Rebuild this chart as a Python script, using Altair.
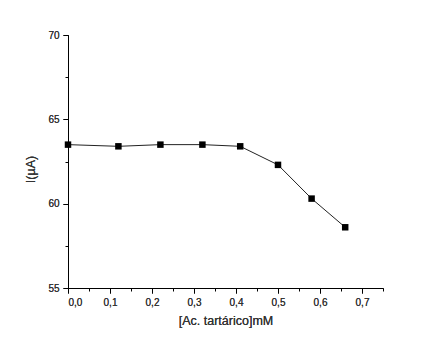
import altair as alt
import pandas as pd

conc = [0.0, 0.12, 0.22, 0.32, 0.41, 0.50, 0.58, 0.66]
current = [63.5, 63.4, 63.5, 63.5, 63.4, 62.3, 60.3, 58.6]

x_major = [0.0, 0.1, 0.2, 0.3, 0.4, 0.5, 0.6, 0.7]
x_minor = [0.05, 0.15, 0.25, 0.35, 0.45, 0.55, 0.65, 0.75]
y_major = [55, 60, 65, 70]
y_minor = [57.5, 62.5, 67.5]

df = pd.DataFrame({"x": conc, "y": current})

FONT = "Liberation Sans"
xscale = alt.Scale(domain=[0, 0.75], nice=False, zero=False)
yscale = alt.Scale(domain=[55, 70], nice=False, zero=False)

x_axis = alt.Axis(values=x_major, title="[Ac. tartárico]mM",
                  labelExpr="replace(format(datum.value, '.1f'), '.', ',')",
                  grid=False, tickSize=5, tickColor="black", domainColor="black",
                  labelColor="#333", labelFont=FONT, labelFontSize=10, labelPadding=4,
                  titleFont=FONT, titleFontSize=12.5, titleFontWeight="normal",
                  titleColor="#333", titlePadding=7, orient="bottom")
y_axis = alt.Axis(values=y_major, title="I(µA)", format="d",
                  grid=False, tickSize=5, tickColor="black", domainColor="black",
                  labelColor="#333", labelFont=FONT, labelFontSize=10, labelPadding=4,
                  titleFont=FONT, titleFontSize=12.5, titleFontWeight="normal",
                  titleColor="#333", titleX=-31, titleY=134, orient="left")

base = alt.Chart(df)
line = base.mark_line(color="#222", strokeWidth=1).encode(
    x=alt.X("x:Q", scale=xscale, axis=x_axis),
    y=alt.Y("y:Q", scale=yscale, axis=y_axis),
)
pts = base.mark_square(color="black", size=42, opacity=1, filled=True).encode(
    x=alt.X("x:Q", scale=xscale, axis=x_axis),
    y=alt.Y("y:Q", scale=yscale, axis=y_axis),
)
minor = base.mark_point(opacity=0).encode(
    x=alt.X("x:Q", scale=xscale,
            axis=alt.Axis(values=x_minor, labels=False, title=None, domain=False,
                          grid=False, tickSize=3, tickColor="black", orient="bottom")),
    y=alt.Y("y:Q", scale=yscale,
            axis=alt.Axis(values=y_minor, labels=False, title=None, domain=False,
                          grid=False, tickSize=3, tickColor="black", orient="left")),
)

chart = alt.layer(line, pts, minor).resolve_axis(
    x="independent", y="independent"
).properties(
    width=315, height=253,
    autosize=alt.AutoSizeParams(type="none"),
    padding={"left": 68, "top": 35, "right": 40, "bottom": 64},
    background="white",
).configure_view(stroke=None)

chart.save("out.html", embed_options={"renderer": "svg", "actions": False})
